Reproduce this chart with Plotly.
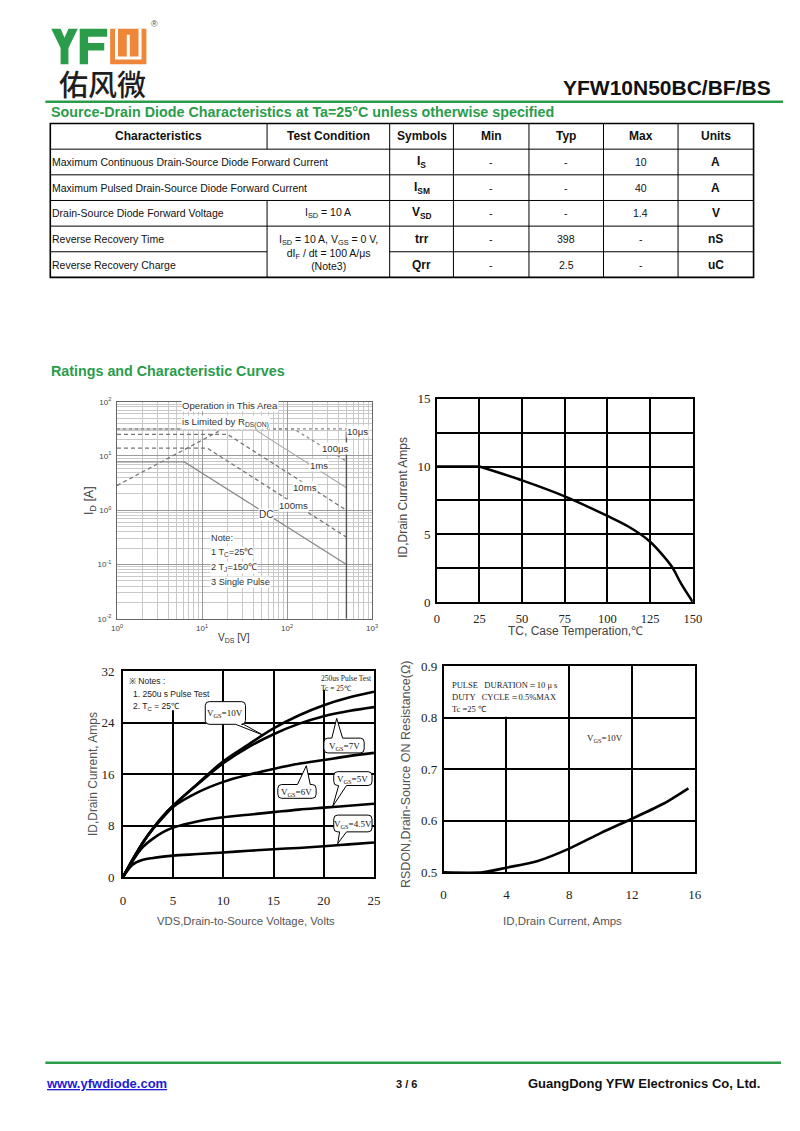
import plotly.graph_objects as go

# The page body keeps its default 8px margin, so the figure is sized to fill
# the 800x1131 window exactly once that margin is added around it.
PAGE_W, PAGE_H = 800, 1131
OFF = 8
W, H = PAGE_W - 2 * OFF, PAGE_H - 2 * OFF


def X(p):
    return (p - OFF) / W


def Y(p):
    return 1 - (p - OFF) / H


GREEN = "#2a9c4a"
ORANGE = "#ef873a"
SANS = "Liberation Sans, Arial, sans-serif"
SERIF = "Liberation Serif, Times New Roman, serif"
CJK = "Noto Sans CJK SC"

# ------------------------------------------------------------------ data
tbl_header = ["Characteristics", "Test Condition", "Symbols", "Min", "Typ", "Max", "Units"]
tbl_char = ["Maximum Continuous Drain-Source Diode Forward Current",
            "Maximum Pulsed Drain-Source Diode Forward Current",
            "Drain-Source Diode Forward Voltage",
            "Reverse Recovery Time",
            "Reverse Recovery Charge"]
tbl_cond_vsd = "I<sub>SD</sub> = 10 A"
tbl_cond_rr = "I<sub>SD</sub> = 10 A, V<sub>GS</sub> = 0 V,<br>dI<sub>F</sub> / dt = 100 A/μs<br>(Note3)"
tbl_sym = ["I<sub>S</sub>", "I<sub>SM</sub>", "V<sub>SD</sub>", "trr", "Qrr"]
tbl_min = ["-", "-", "-", "-", "-"]
tbl_typ = ["-", "-", "-", "398", "2.5"]
tbl_max = ["10", "40", "1.4", "-", "-"]
tbl_unit = ["A", "A", "V", "nS", "uC"]

# Safe operating area (log-log)
soa_vds_rds = [1, 15.7]
soa_id_rds = [2.85, 28.5]
soa_vds_dc = [1, 6.2, 500]
soa_id_dc = [7.8, 7.8, 0.1]
soa_vds_100ms = [1, 11.5, 500]
soa_id_100ms = [14, 14, 0.32]
soa_vds_10ms = [1, 20, 500]
soa_id_10ms = [25, 25, 1.0]
soa_vds_1ms = [1, 41, 500]
soa_id_1ms = [31.5, 31.5, 2.6]
soa_vds_100us = [1, 120, 500]
soa_id_100us = [31.5, 31.5, 8.0]
soa_vds_10us = [1, 500, 500]
soa_id_10us = [31.5, 31.5, 20]
soa_vds_bv = [500, 500]
soa_id_bv = [0.01, 28]
soa_xticks = [1, 10, 100, 1000]
soa_xtext = ["10<sup>0</sup>", "10<sup>1</sup>", "10<sup>2</sup>", "10<sup>3</sup>"]
soa_yticks = [0.01, 0.1, 1, 10, 100]
soa_ytext = ["10<sup>-2</sup>", "10<sup>-1</sup>", "10<sup>0</sup>", "10<sup>1</sup>", "10<sup>2</sup>"]

# Derating
der_tc_flat = [0, 25]
der_id_flat = [10, 10]
der_tc = [25, 50, 75, 100, 112.5, 125, 137.5, 143, 150]
der_id = [10, 8.98, 7.8, 6.35, 5.55, 4.45, 2.65, 1.4, 0]

# Output characteristics
out_vds = [0, 1, 2, 3, 4, 5, 7.5, 10, 12.5, 15, 17.5, 20, 22.5, 25]
out_id_10v = [0, 2.8, 5.4, 7.6, 9.5, 11.1, 14.6, 18.0, 20.6, 23.1, 25.1, 26.7, 27.9, 28.8]
out_id_7v = [0, 2.8, 5.4, 7.6, 9.5, 11.1, 14.5, 17.7, 20.2, 22.2, 23.8, 25.0, 25.8, 26.4]
out_id_6v = [0, 2.8, 5.4, 7.5, 9.3, 10.9, 13.2, 14.8, 15.9, 16.8, 17.6, 18.2, 18.8, 19.3]
out_id_5v = [0, 2.6, 4.7, 6.0, 7.0, 7.7, 8.7, 9.3, 9.7, 10.1, 10.5, 10.8, 11.1, 11.4]
out_id_45v = [0, 2.0, 2.7, 3.0, 3.2, 3.35, 3.6, 3.85, 4.1, 4.35, 4.55, 4.8, 5.1, 5.4]

# On resistance
rds_id = [0, 2.5, 4, 6, 8, 10, 12, 14, 15.6]
rds_r = [0.5, 0.5, 0.509, 0.522, 0.546, 0.576, 0.604, 0.633, 0.663]

# ------------------------------------------------------------------ helpers
shapes = []
annots = []


def txt(x, y, text, size, color="#222", family=SANS, xanchor="center",
        yanchor="middle", bold=False, angle=0, bg=None, weight=None):
    w = weight if weight else ("bold" if bold else "normal")
    d = dict(x=X(x), y=Y(y), xref="paper", yref="paper", text=text,
             showarrow=False,
             font=dict(size=size, color=color, family=family, weight=w),
             xanchor=xanchor, yanchor=yanchor, textangle=angle, borderpad=0)
    if bg:
        d["bgcolor"] = bg
    annots.append(d)


def hline(x0, x1, y, color="black", width=1):
    shapes.append(dict(type="line", xref="paper", yref="paper", x0=X(x0), x1=X(x1),
                       y0=Y(y), y1=Y(y), line=dict(color=color, width=width)))


def vline(x, y0, y1, color="black", width=1):
    shapes.append(dict(type="line", xref="paper", yref="paper", x0=X(x), x1=X(x),
                       y0=Y(y0), y1=Y(y1), line=dict(color=color, width=width)))


def rect(x0, y0, x1, y1, fill, layer="above"):
    shapes.append(dict(type="rect", xref="paper", yref="paper", x0=X(x0), x1=X(x1),
                       y0=Y(y0), y1=Y(y1), fillcolor=fill, line=dict(width=0),
                       layer=layer))


def P(x, y):
    return f"{X(x):.5f},{Y(y):.5f}"


def poly(pts, fill):
    path = "M" + " L".join(P(x, y) for x, y in pts) + " Z"
    shapes.append(dict(type="path", xref="paper", yref="paper", path=path,
                       fillcolor=fill, line=dict(width=0)))


def callout(x0, y0, x1, y1, side, b0, b1, tip, text, r=4):
    pts = [f"M{P(x0 + r, y0)}"]
    if side == "top":
        pts += [f"L{P(b0, y0)}", f"L{P(*tip)}", f"L{P(b1, y0)}"]
    pts += [f"L{P(x1 - r, y0)}", f"Q{P(x1, y0)} {P(x1, y0 + r)}",
            f"L{P(x1, y1 - r)}", f"Q{P(x1, y1)} {P(x1 - r, y1)}"]
    if side == "bottom":
        pts += [f"L{P(b1, y1)}", f"L{P(*tip)}", f"L{P(b0, y1)}"]
    pts += [f"L{P(x0 + r, y1)}", f"Q{P(x0, y1)} {P(x0, y1 - r)}",
            f"L{P(x0, y0 + r)}", f"Q{P(x0, y0)} {P(x0 + r, y0)}", "Z"]
    shapes.append(dict(type="path", xref="paper", yref="paper", path=" ".join(pts),
                       fillcolor="white", line=dict(color="black", width=1)))
    txt((x0 + x1) / 2, (y0 + y1) / 2 + 1, text, 9, color="#111", family=SERIF)


# ------------------------------------------------------------------ header (logo)
poly([(46, 22), (55.5, 22), (59.5, 31), (63.5, 22), (73, 22), (63.5, 41.5),
      (63.5, 58), (55.5, 58), (55.5, 41.5)], GREEN)
poly([(75, 22), (103, 22), (103, 30), (83.5, 30), (83.5, 36.5), (100, 36.5),
      (100, 44), (83.5, 44), (83.5, 58), (75, 58)], GREEN)
rect(106, 22, 143, 58, ORANGE)
shapes.append(dict(type="path", xref="paper", yref="paper",
                   path=f"M{P(112.5, 22)} L{P(112.5, 51.5)} L{P(136.5, 51.5)} L{P(136.5, 22)}",
                   line=dict(color="white", width=3)))
shapes.append(dict(type="path", xref="paper", yref="paper",
                   path=f"M{P(124.5, 28)} L{P(124.5, 51.5)}",
                   line=dict(color="white", width=3)))
txt(151, 17, "®", 9, color="#555")
txt(98, 77, "佑风微", 29, color="#1e1e1e", family=CJK, weight=500)
txt(781, 81, "YFW10N50BC/BF/BS", 21, color="#111", xanchor="right", bold=True)
hline(40, 792, 96, color=GREEN, width=2.5)
txt(45, 106, "Source-Drain Diode Characteristics at Ta=25°C unless otherwise specified",
    14.3, color=GREEN, xanchor="left", bold=True)

# ------------------------------------------------------------------ table
cols = [45, 266, 391, 456, 533, 609, 685, 762]
rows = [118, 144, 170, 196, 222, 248, 274]
for i, h in enumerate(tbl_header):
    txt((cols[i] + cols[i + 1]) / 2, (rows[0] + rows[1]) / 2, h, 12, color="#111", bold=True)
for r in range(5):
    yc = (rows[r + 1] + rows[r + 2]) / 2
    txt(46, yc, tbl_char[r], 10.5, color="#111", xanchor="left")
    txt((cols[2] + cols[3]) / 2, yc, tbl_sym[r], 12, color="#111", bold=True)
    txt((cols[3] + cols[4]) / 2, yc, tbl_min[r], 10.5, color="#111")
    txt((cols[4] + cols[5]) / 2, yc, tbl_typ[r], 10.5, color="#111")
    txt((cols[5] + cols[6]) / 2, yc, tbl_max[r], 10.5, color="#111")
    txt((cols[6] + cols[7]) / 2, yc, tbl_unit[r], 12, color="#111", bold=True)
txt((cols[1] + cols[2]) / 2, (rows[3] + rows[4]) / 2, tbl_cond_vsd, 10.5, color="#111")
txt((cols[1] + cols[2]) / 2, rows[5] + 0.5, tbl_cond_rr, 10.5, color="#111")
for yv in rows[1:-1]:
    if yv == rows[5]:
        hline(cols[0], cols[1], yv)
        hline(cols[2], cols[-1], yv)
    else:
        hline(cols[0], cols[-1], yv)
for xv in cols[2:-1]:
    vline(xv, rows[0], rows[-1])
vline(cols[1], rows[0], rows[1])
vline(cols[1], rows[3], rows[-1])
shapes.append(dict(type="rect", xref="paper", yref="paper", x0=X(cols[0]), x1=X(cols[-1]),
                   y0=Y(rows[-1]), y1=Y(rows[0]), line=dict(color="black", width=1.6)))

txt(45, 369, "Ratings and Characteristic Curves", 14.3, color=GREEN, xanchor="left", bold=True)

# ------------------------------------------------------------------ footer
hline(40, 790, 1070, color=GREEN, width=2.5)
txt(40, 1091, "<u>www.yfwdiode.com</u>", 13, color="#1c1cd6", xanchor="left", bold=True)
txt(408, 1092, "3 / 6", 11, color="#111", bold=True)
txt(770, 1091, "GuangDong YFW Electronics Co, Ltd.", 13, color="#111", xanchor="right", bold=True)

# ------------------------------------------------------------------ traces
fig = go.Figure()


def soa(x, y, dash, color, width=1.3):
    fig.add_trace(go.Scatter(x=x, y=y, mode="lines", xaxis="x", yaxis="y",
                             line=dict(color=color, width=width, dash=dash), hoverinfo="skip"))


soa(soa_vds_10us, soa_id_10us, "dot", "#888")
soa(soa_vds_100us, soa_id_100us, "dot", "#8a8a8a")
soa(soa_vds_1ms, soa_id_1ms, "solid", "#a8a8a8", 1.1)
soa(soa_vds_10ms, soa_id_10ms, "4px,3px", "#777")
soa(soa_vds_100ms, soa_id_100ms, "4px,3px", "#777")
soa(soa_vds_rds, soa_id_rds, "4px,3px", "#777")
soa(soa_vds_dc, soa_id_dc, "solid", "#8a8a8a")
soa(soa_vds_bv, soa_id_bv, "solid", "#555", 1.4)

fig.add_trace(go.Scatter(x=der_tc_flat, y=der_id_flat, mode="lines", xaxis="x2", yaxis="y2",
                         line=dict(color="black", width=2.5), hoverinfo="skip"))
fig.add_trace(go.Scatter(x=der_tc, y=der_id, mode="lines", xaxis="x2", yaxis="y2",
                         line=dict(color="black", width=2.5, shape="spline", smoothing=0.8),
                         hoverinfo="skip"))

for ys in [out_id_10v, out_id_7v, out_id_6v, out_id_5v, out_id_45v]:
    fig.add_trace(go.Scatter(x=out_vds, y=ys, mode="lines", xaxis="x3", yaxis="y3",
                             line=dict(color="black", width=2.6, shape="spline", smoothing=1.0),
                             hoverinfo="skip"))

fig.add_trace(go.Scatter(x=rds_id, y=rds_r, mode="lines", xaxis="x4", yaxis="y4",
                         line=dict(color="black", width=2.6, shape="spline", smoothing=0.7),
                         hoverinfo="skip"))

# ------------------------------------------------------------------ chart decorations
# SOA
txt(178, 404, "Operation in This Area", 9.6, color="#333", xanchor="left", bg="white")
txt(178, 421, "is Limited by R<sub>DS(ON)</sub>", 9.6, color="#333", xanchor="left", bg="white")
txt(358, 430, "10μs", 9.6, color="#333", bg="white")
txt(336, 447, "100μs", 9.6, color="#333", bg="white")
txt(319, 465, "1ms", 9.6, color="#333", bg="white")
txt(305, 487, "10ms", 9.6, color="#333", bg="white")
txt(293, 505, "100ms", 9.6, color="#333", bg="white")
txt(265, 514, "DC", 10, color="#333", bg="white")
txt(208, 538, "Note:", 9.2, color="#333", xanchor="left", bg="white")
txt(208, 553, "1 T<sub>C</sub>=25℃", 9.2, color="#333", xanchor="left", bg="white")
txt(208, 568, "2 T<sub>J</sub>=150℃", 9.2, color="#333", xanchor="left", bg="white")
txt(208, 583, "3 Single Pulse", 9.2, color="#333", xanchor="left", bg="white")
txt(86, 500, "I<sub>D</sub> [A]", 12.5, color="#333", angle=-90)
txt(232, 640, "V<sub>DS</sub> [V]", 10, color="#333")

# Derating
txt(405, 497, "ID,Drain Current Amps", 12, color="#444", angle=-90)
txt(580, 632, "TC, Case Temperation,℃", 12, color="#444")

# Output characteristics
shapes.append(dict(type="rect", xref="x3", yref="y3", x0=0, x1=6.6, y0=25.9, y1=32,
                   fillcolor="white", line=dict(width=0), layer="between"))
shapes.append(dict(type="rect", xref="x3", yref="y3", x0=19.6, x1=25, y0=29.1, y1=32,
                   fillcolor="white", line=dict(width=0), layer="between"))
txt(124, 683, "※ Notes :", 8.5, color="#222", xanchor="left")
txt(128, 696, "1. 250u s Pulse Test", 8.5, color="#222", xanchor="left")
txt(128, 709, "2. T<sub>C</sub> = 25℃", 8.5, color="#222", xanchor="left")
txt(320, 681, "250us Pulse Test", 7.5, color="#222", family=SERIF, xanchor="left")
txt(320, 691, "Tc = 25℃", 7.5, color="#222", family=SERIF, xanchor="left")
callout(203, 704, 244, 727, "bottom", 234, 242, (262, 738), "V<sub>GS</sub>=10V")
callout(324, 741, 365, 756, "top", 332, 343, (337, 721), "V<sub>GS</sub>=7V")
callout(277, 788, 316, 802, "top", 297, 310, (306, 769), "V<sub>GS</sub>=6V")
callout(334, 775, 373, 789, "bottom", 339, 347, (333, 810), "V<sub>GS</sub>=5V")
callout(334, 819, 373, 836, "bottom", 340, 347, (338, 848), "V<sub>GS</sub>=4.5V")
txt(88, 777, "ID,Drain Current, Amps", 12, color="#555", angle=-90)
txt(245, 926, "VDS,Drain-to-Source Voltage, Volts", 11.3, color="#555")

# On resistance
shapes.append(dict(type="rect", xref="x4", yref="y4", x0=0, x1=7.6, y0=0.802, y1=0.9,
                   fillcolor="white", line=dict(width=0), layer="between"))
txt(454, 687, "PULSE   DURATION＝10 μ s", 8.5, color="#222", family=SERIF, xanchor="left")
txt(454, 699, "DUTY   CYCLE＝0.5%MAX", 8.5, color="#222", family=SERIF, xanchor="left")
txt(454, 711, "Tc =25 ℃", 8.5, color="#222", family=SERIF, xanchor="left")
txt(611, 741, "V<sub>GS</sub>=10V", 9, color="#222", family=SERIF)
txt(407, 778, "RSDON,Drain-Source ON Resistance(Ω)", 12.5, color="#555", angle=-90)
txt(567, 926, "ID,Drain Current, Amps", 11.5, color="#555")

# ------------------------------------------------------------------ axes
blk = dict(showline=True, mirror=True, linecolor="black", linewidth=1.5, zeroline=False,
           showgrid=True, gridcolor="black", gridwidth=1.5, ticks="",
           tickfont=dict(family=SERIF, size=13, color="#222"))

fig.update_layout(
    width=W, height=H, margin=dict(l=0, r=0, t=0, b=0),
    paper_bgcolor="white", plot_bgcolor="white", showlegend=False,
    xaxis=dict(domain=[X(113), X(373)], anchor="y", type="log", range=[0, 3],
               tickvals=soa_xticks, ticktext=soa_xtext, showline=True, mirror=True,
               linecolor="#666", linewidth=1, zeroline=False, ticks="",
               showgrid=True, gridcolor="#9a9a9a", gridwidth=0.9,
               minor=dict(showgrid=True, gridcolor="#c9c9c9", gridwidth=0.7, dtick="D1"),
               tickfont=dict(family=SANS, size=8, color="#444"), ticklabelstandoff=2),
    yaxis=dict(domain=[Y(620), Y(400)], anchor="x", type="log", range=[-2, 2],
               tickvals=soa_yticks, ticktext=soa_ytext, showline=True, mirror=True,
               linecolor="#666", linewidth=1, zeroline=False, ticks="",
               showgrid=True, gridcolor="#9a9a9a", gridwidth=0.9,
               minor=dict(showgrid=True, gridcolor="#c9c9c9", gridwidth=0.7, dtick="D1"),
               tickfont=dict(family=SANS, size=8, color="#444"), ticklabelstandoff=3),
    xaxis2=dict(blk, domain=[X(439), X(700)], anchor="y2", range=[0, 150], dtick=25,
                ticklabelstandoff=4, tickfont=dict(family=SERIF, size=12.5, color="#222")),
    yaxis2=dict(blk, domain=[Y(603), Y(397)], anchor="x2", range=[0, 15], dtick=5,
                minor=dict(dtick=2.5, showgrid=True, gridcolor="black", gridwidth=1.5),
                ticklabelstandoff=2),
    xaxis3=dict(blk, domain=[X(119), X(375)], anchor="y3", range=[0, 25], dtick=5,
                ticklabelstandoff=10),
    yaxis3=dict(blk, domain=[Y(882), Y(673)], anchor="x3", range=[0, 32], dtick=8,
                ticklabelstandoff=4),
    xaxis4=dict(blk, domain=[X(446), X(702)], anchor="y4", range=[0, 16], dtick=4,
                ticklabelstandoff=9),
    yaxis4=dict(blk, domain=[Y(877), Y(668)], anchor="x4", range=[0.5, 0.9], dtick=0.1,
                tickformat=".1f", ticklabelstandoff=2),
    shapes=shapes,
    annotations=annots,
)

fig.write_html("out.html", config={"displayModeBar": False})
